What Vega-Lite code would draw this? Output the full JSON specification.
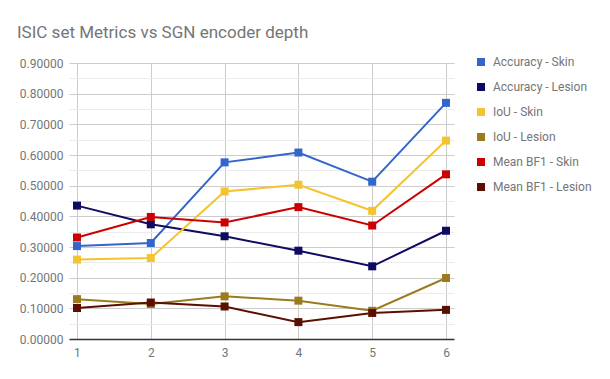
{
  "$schema": "https://vega.github.io/schema/vega-lite/v6.json",
  "autosize": {"type": "none"},
  "width": 385,
  "height": 276,
  "padding": {"left": 69, "top": 63, "right": 156, "bottom": 40},
  "background": "white",
  "title": {
    "text": "ISIC set Metrics vs SGN encoder depth",
    "anchor": "start",
    "frame": "group",
    "dx": -52,
    "offset": 1,
    "baseline": "alphabetic",
    "font": "Roboto",
    "fontSize": 17,
    "fontWeight": "normal",
    "color": "#757575"
  },
  "config": {
    "view": {"stroke": null},
    "font": "Roboto"
  },
  "data": {
    "values": [
      {"depth": 1, "series": "Accuracy - Skin", "value": 0.303},
      {"depth": 2, "series": "Accuracy - Skin", "value": 0.313},
      {"depth": 3, "series": "Accuracy - Skin", "value": 0.576},
      {"depth": 4, "series": "Accuracy - Skin", "value": 0.608},
      {"depth": 5, "series": "Accuracy - Skin", "value": 0.513},
      {"depth": 6, "series": "Accuracy - Skin", "value": 0.770},
      {"depth": 1, "series": "Accuracy - Lesion", "value": 0.435},
      {"depth": 2, "series": "Accuracy - Lesion", "value": 0.374},
      {"depth": 3, "series": "Accuracy - Lesion", "value": 0.335},
      {"depth": 4, "series": "Accuracy - Lesion", "value": 0.288},
      {"depth": 5, "series": "Accuracy - Lesion", "value": 0.237},
      {"depth": 6, "series": "Accuracy - Lesion", "value": 0.353},
      {"depth": 1, "series": "IoU - Skin", "value": 0.259},
      {"depth": 2, "series": "IoU - Skin", "value": 0.264},
      {"depth": 3, "series": "IoU - Skin", "value": 0.481},
      {"depth": 4, "series": "IoU - Skin", "value": 0.503},
      {"depth": 5, "series": "IoU - Skin", "value": 0.418},
      {"depth": 6, "series": "IoU - Skin", "value": 0.647},
      {"depth": 1, "series": "IoU - Lesion", "value": 0.130},
      {"depth": 2, "series": "IoU - Lesion", "value": 0.114},
      {"depth": 3, "series": "IoU - Lesion", "value": 0.139},
      {"depth": 4, "series": "IoU - Lesion", "value": 0.125},
      {"depth": 5, "series": "IoU - Lesion", "value": 0.092},
      {"depth": 6, "series": "IoU - Lesion", "value": 0.199},
      {"depth": 1, "series": "Mean BF1 - Skin", "value": 0.331},
      {"depth": 2, "series": "Mean BF1 - Skin", "value": 0.398},
      {"depth": 3, "series": "Mean BF1 - Skin", "value": 0.380},
      {"depth": 4, "series": "Mean BF1 - Skin", "value": 0.430},
      {"depth": 5, "series": "Mean BF1 - Skin", "value": 0.370},
      {"depth": 6, "series": "Mean BF1 - Skin", "value": 0.537},
      {"depth": 1, "series": "Mean BF1 - Lesion", "value": 0.101},
      {"depth": 2, "series": "Mean BF1 - Lesion", "value": 0.119},
      {"depth": 3, "series": "Mean BF1 - Lesion", "value": 0.106},
      {"depth": 4, "series": "Mean BF1 - Lesion", "value": 0.055},
      {"depth": 5, "series": "Mean BF1 - Lesion", "value": 0.085},
      {"depth": 6, "series": "Mean BF1 - Lesion", "value": 0.095}
    ]
  },
  "encoding": {
    "x": {
      "field": "depth",
      "type": "quantitative",
      "scale": {"domain": [0.8916, 6.1084], "nice": false, "zero": false},
      "axis": {
        "title": null,
        "values": [1, 2, 3, 4, 5, 6],
        "format": "d",
        "grid": true,
        "gridColor": "#cccccc",
        "gridWidth": 1,
        "ticks": false,
        "domain": true,
        "domainColor": "#333333",
        "domainWidth": 1.5,
        "labelFont": "Roboto",
        "labelFontSize": 12,
        "labelColor": "#757575",
        "labelPadding": 8
      }
    },
    "y": {
      "field": "value",
      "type": "quantitative",
      "scale": {"domain": [0, 0.9], "nice": false},
      "axis": {
        "title": null,
        "values": [0, 0.05, 0.1, 0.15, 0.2, 0.25, 0.3, 0.35, 0.4, 0.45, 0.5, 0.55, 0.6, 0.65, 0.7, 0.75, 0.8, 0.85, 0.9],
        "labelExpr": "round(datum.value*100) % 10 == 0 ? format(datum.value, '.5f') : ''",
        "grid": true,
        "gridColor": {"condition": {"test": "round(datum.value*100) % 10 == 0", "value": "#cccccc"}, "value": "#ebebeb"},
        "gridWidth": 1,
        "ticks": false,
        "domain": false,
        "labelFont": "Roboto",
        "labelFontSize": 12,
        "labelColor": "#757575",
        "labelPadding": 6
      }
    },
    "color": {
      "field": "series",
      "type": "nominal",
      "scale": {
        "domain": ["Accuracy - Skin", "Accuracy - Lesion", "IoU - Skin", "IoU - Lesion", "Mean BF1 - Skin", "Mean BF1 - Lesion"],
        "range": ["#3366cc", "#0e0b61", "#f4c430", "#9c7b1f", "#cc0000", "#5b0f00"]
      },
      "legend": {
        "title": null,
        "orient": "none",
        "legendX": 406,
        "legendY": -7,
        "padding": 0,
        "symbolType": "square",
        "symbolSize": 64,
        "symbolStrokeWidth": 0,
        "labelFont": "Roboto",
        "labelFontSize": 12,
        "labelColor": "#757575",
        "labelOffset": 6,
        "rowPadding": 13
      }
    }
  },
  "layer": [
    {"mark": {"type": "line", "strokeWidth": 2}},
    {"mark": {"type": "point", "shape": "square", "filled": true, "opacity": 1, "size": 64}}
  ]
}
